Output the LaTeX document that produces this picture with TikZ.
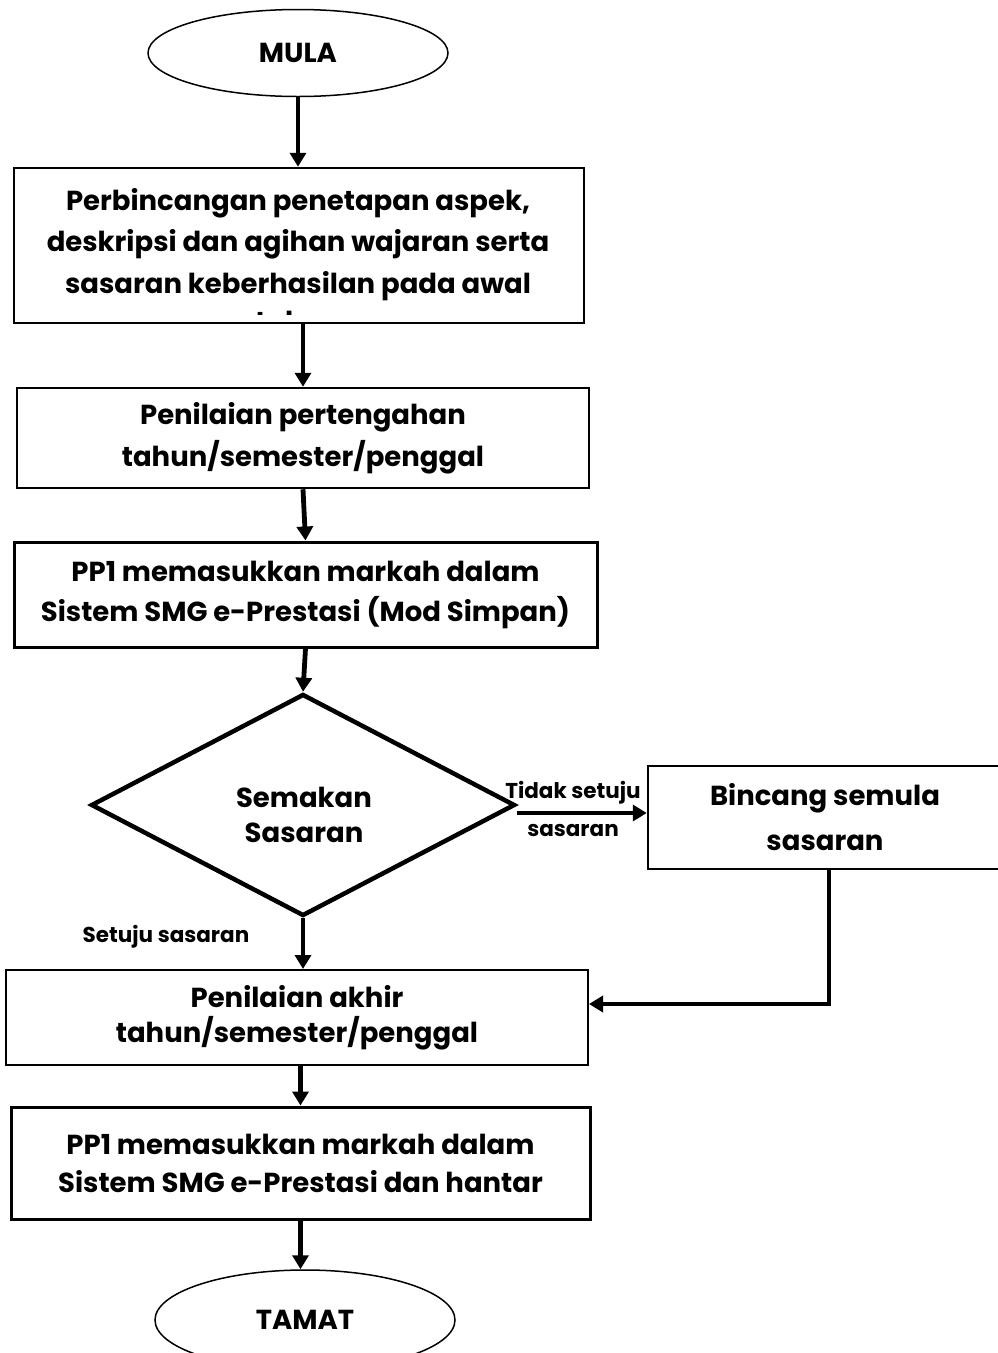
\documentclass[tikz,border=0pt]{standalone}
\usepackage{fontspec}
\setmainfont{Poppins}
\usetikzlibrary{shapes.geometric,arrows.meta}
\begin{document}
\begin{tikzpicture}[x=1pt,y=-1pt,
  box/.style={draw, line width=2.5pt, inner sep=0pt, align=center, font=\fontsize{27.5}{41}\selectfont\bfseries},
  term/.style={draw, ellipse, line width=1.5pt, inner sep=0pt, font=\fontsize{27.5}{32}\selectfont\bfseries},
  txt/.style={inner sep=0pt, anchor=base, font=\fontsize{27.5}{41}\selectfont\bfseries},
  arr/.style={line width=4.8pt, -{Triangle[length=14pt,width=16pt]}},
  lbl/.style={font=\fontsize{21.5}{37}\selectfont\bfseries, inner sep=0pt, align=center}]
\useasboundingbox (0,0) rectangle (998,1353);
\clip (0,0) rectangle (998,1353);

\node[term, minimum width=300pt, minimum height=87pt] (mula) at (298,53) {MULA};

\node[box, minimum width=570pt, minimum height=155pt] (b1) at (299,245.5) {};
\begin{scope}
\clip (14,168) rectangle (584,314);
\node[txt] (t1a) at (298,210) {Perbincangan penetapan aspek,};
\node[txt] (t1b) at (298,251.5) {deskripsi dan agihan wajaran serta};
\node[txt] (t1c) at (298,293) {sasaran keberhasilan pada awal};
\node[txt] (t1d) at (298,331) {tahun};
\end{scope}

\node[box, minimum width=572pt, minimum height=100pt, font=\fontsize{27.5}{42}\selectfont\bfseries] (b2) at (303,438) {Penilaian pertengahan\\tahun/semester/penggal};

\node[box, line width=3pt, minimum width=583pt, minimum height=105pt, font=\fontsize{27.5}{40}\selectfont\bfseries] (b3) at (305.5,594.5) {PP1 memasukkan markah dalam\\Sistem SMG e-Prestasi (Mod Simpan)};

\node[draw, diamond, line width=4.5pt, inner sep=0pt, aspect=1.91, minimum width=424pt, minimum height=222pt] (d) at (303,805) {};
\node[inner sep=0pt, align=center, font=\fontsize{27.5}{35}\selectfont\bfseries] (dt) at (304,814.5) {Semakan\\Sasaran};

\node[box, minimum width=354pt, minimum height=103pt, font=\fontsize{27.5}{45}\selectfont\bfseries] (bin) at (825,817.5) {Bincang semula\\sasaran};

\node[box, line width=2pt, minimum width=582pt, minimum height=95pt, font=\fontsize{27.5}{35}\selectfont\bfseries] (b4) at (297,1017.5) {Penilaian akhir\\tahun/semester/penggal};

\node[box, line width=3pt, minimum width=579pt, minimum height=112pt, font=\fontsize{27.5}{38}\selectfont\bfseries] (b5) at (300.5,1163) {PP1 memasukkan markah dalam\\Sistem SMG e-Prestasi dan hantar};

\node[term, minimum width=300pt, minimum height=100pt] (tamat) at (305,1320) {TAMAT};

\node[lbl] (ltid) at (573,793) {Tidak setuju};
\node[lbl] (lsas) at (573,830) {sasaran};
\node[lbl] (lset) at (166,937) {Setuju sasaran};

\draw[arr] (mula.south) -- (mula.south |- b1.north);
\draw[arr] (b2.north |- b1.south) -- (b2.north);
\draw[arr] (b2.south) -- (b3.north);
\draw[arr] (b3.south) -- (d.north);
\draw[arr] ([yshift=-8pt]d.east) -- ([yshift=-8pt]d.east -| bin.west);
\draw[arr] (d.south) -- (d.south |- b4.north);
\draw[arr] ([xshift=4pt]bin.south) |- ([yshift=13.5pt]b4.east);
\draw[arr] (b5.north |- b4.south) -- (b5.north);
\draw[arr] (b5.south) -- (b5.south |- tamat.north);
\end{tikzpicture}
\end{document}
